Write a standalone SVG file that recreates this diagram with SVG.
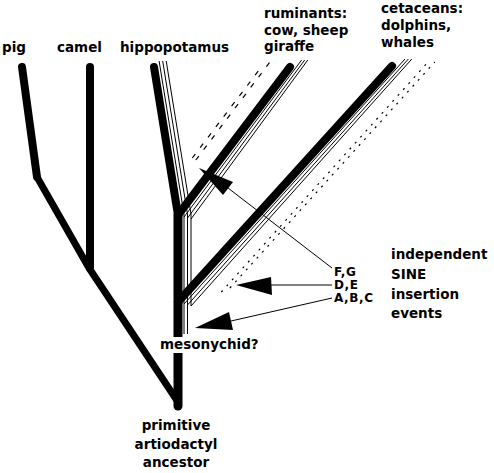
<svg xmlns="http://www.w3.org/2000/svg" width="494" height="473" viewBox="0 0 494 473">
<style>
.big{font-family:"DejaVu Sans",sans-serif;font-weight:bold;font-size:13.5px;fill:#000}
.small{font-family:"DejaVu Sans",sans-serif;font-weight:bold;font-size:12px;letter-spacing:0.6px;fill:#000}
.thick{fill:none;stroke:#000;stroke-width:8;stroke-linecap:round;stroke-linejoin:round}
.thin{fill:none;stroke:#000;stroke-width:1}
.dot{fill:none;stroke:#000;stroke-width:1.2;stroke-dasharray:2 6}
.dash{fill:none;stroke:#000;stroke-width:1.2;stroke-dasharray:5 8}
.ptr{fill:none;stroke:#000;stroke-width:1}
.head{fill:#000}
</style>
<rect width="494" height="473" fill="#fff"/>
<g id="connectors">
  <!-- thin SINE lines -->
  <path class="thin" d="M159.1,61 L184,214.5 L184,334 M184,217 L301.6,60 M184,304 L405,59"/>
  <path class="thin" d="M162.7,61 L187.5,214.2 L187.5,334 M187.5,218 L304.7,60 M187.5,305 L408.4,59"/>
  <path class="thin" d="M166.2,61 L191,214 L191,306 M191,219 L307.8,60 M191,306 L411.8,59"/>
  <path class="dot" d="M221.3,292 L429.9,60"/>
  <path class="dot" d="M229.9,288 L434.8,62"/>
  <path class="dash" d="M195.8,160 L270,62"/>
  <path class="dash" d="M192.3,158 L262.1,66"/>
  <!-- thick tree -->
  <path class="thick" d="M22,67 L37,177"/>
  <path class="thick" style="stroke-width:7" d="M37,177 L89,268 L178,402"/>
  <path class="thick" d="M90,67 L90,268"/>
  <path class="thick" d="M154,67 L178,215"/>
  <path class="thick" style="stroke-width:9" d="M178,215 L178,406"/>
  <path class="thick" d="M178,215 L290,67"/>
  <path class="thick" d="M178,302 L392,66"/>
  <!-- pointers -->
  <path class="ptr" d="M228,188 L332,268"/>
  <polygon class="head" points="199,168 233,182 223,195"/>
  <path class="ptr" d="M270,285 L332,285"/>
  <polygon class="head" points="236,285 271,277 272,295"/>
  <path class="ptr" d="M231,321 L332,298"/>
  <polygon class="head" points="195,328 229,312 233,330"/>
</g>
<g id="pig"><text class="big" x="2" y="52">pig</text></g>
<g id="camel"><text class="big" x="57" y="52">camel</text></g>
<g id="hippopotamus"><text class="big" x="120" y="52">hippopotamus</text></g>
<g id="ruminants"><text class="big" x="264" y="18">ruminants:</text><text class="big" x="264" y="35">cow, sheep</text><text class="big" x="264" y="51">giraffe</text></g>
<g id="cetaceans"><text class="big" x="381" y="13">cetaceans:</text><text class="big" x="381" y="30">dolphins,</text><text class="big" x="381" y="47">whales</text></g>
<g id="mesonychid"><rect x="158" y="337" width="106" height="16" fill="#fff"/><text class="big" x="160" y="349">mesonychid?</text></g>
<g id="ancestor"><text class="big" x="176" y="430" text-anchor="middle">primitive</text><text class="big" x="176" y="449" text-anchor="middle">artiodactyl</text><text class="big" x="176" y="467" text-anchor="middle">ancestor</text></g>
<g id="events"><text class="big" x="391" y="259">independent</text><text class="big" x="391" y="279">SINE</text><text class="big" x="391" y="299">insertion</text><text class="big" x="391" y="318">events</text></g>
<g id="labels"><text class="small" x="334" y="276">F,G</text><text class="small" x="334" y="289">D,E</text><text class="small" x="334" y="302">A,B,C</text></g>
</svg>
